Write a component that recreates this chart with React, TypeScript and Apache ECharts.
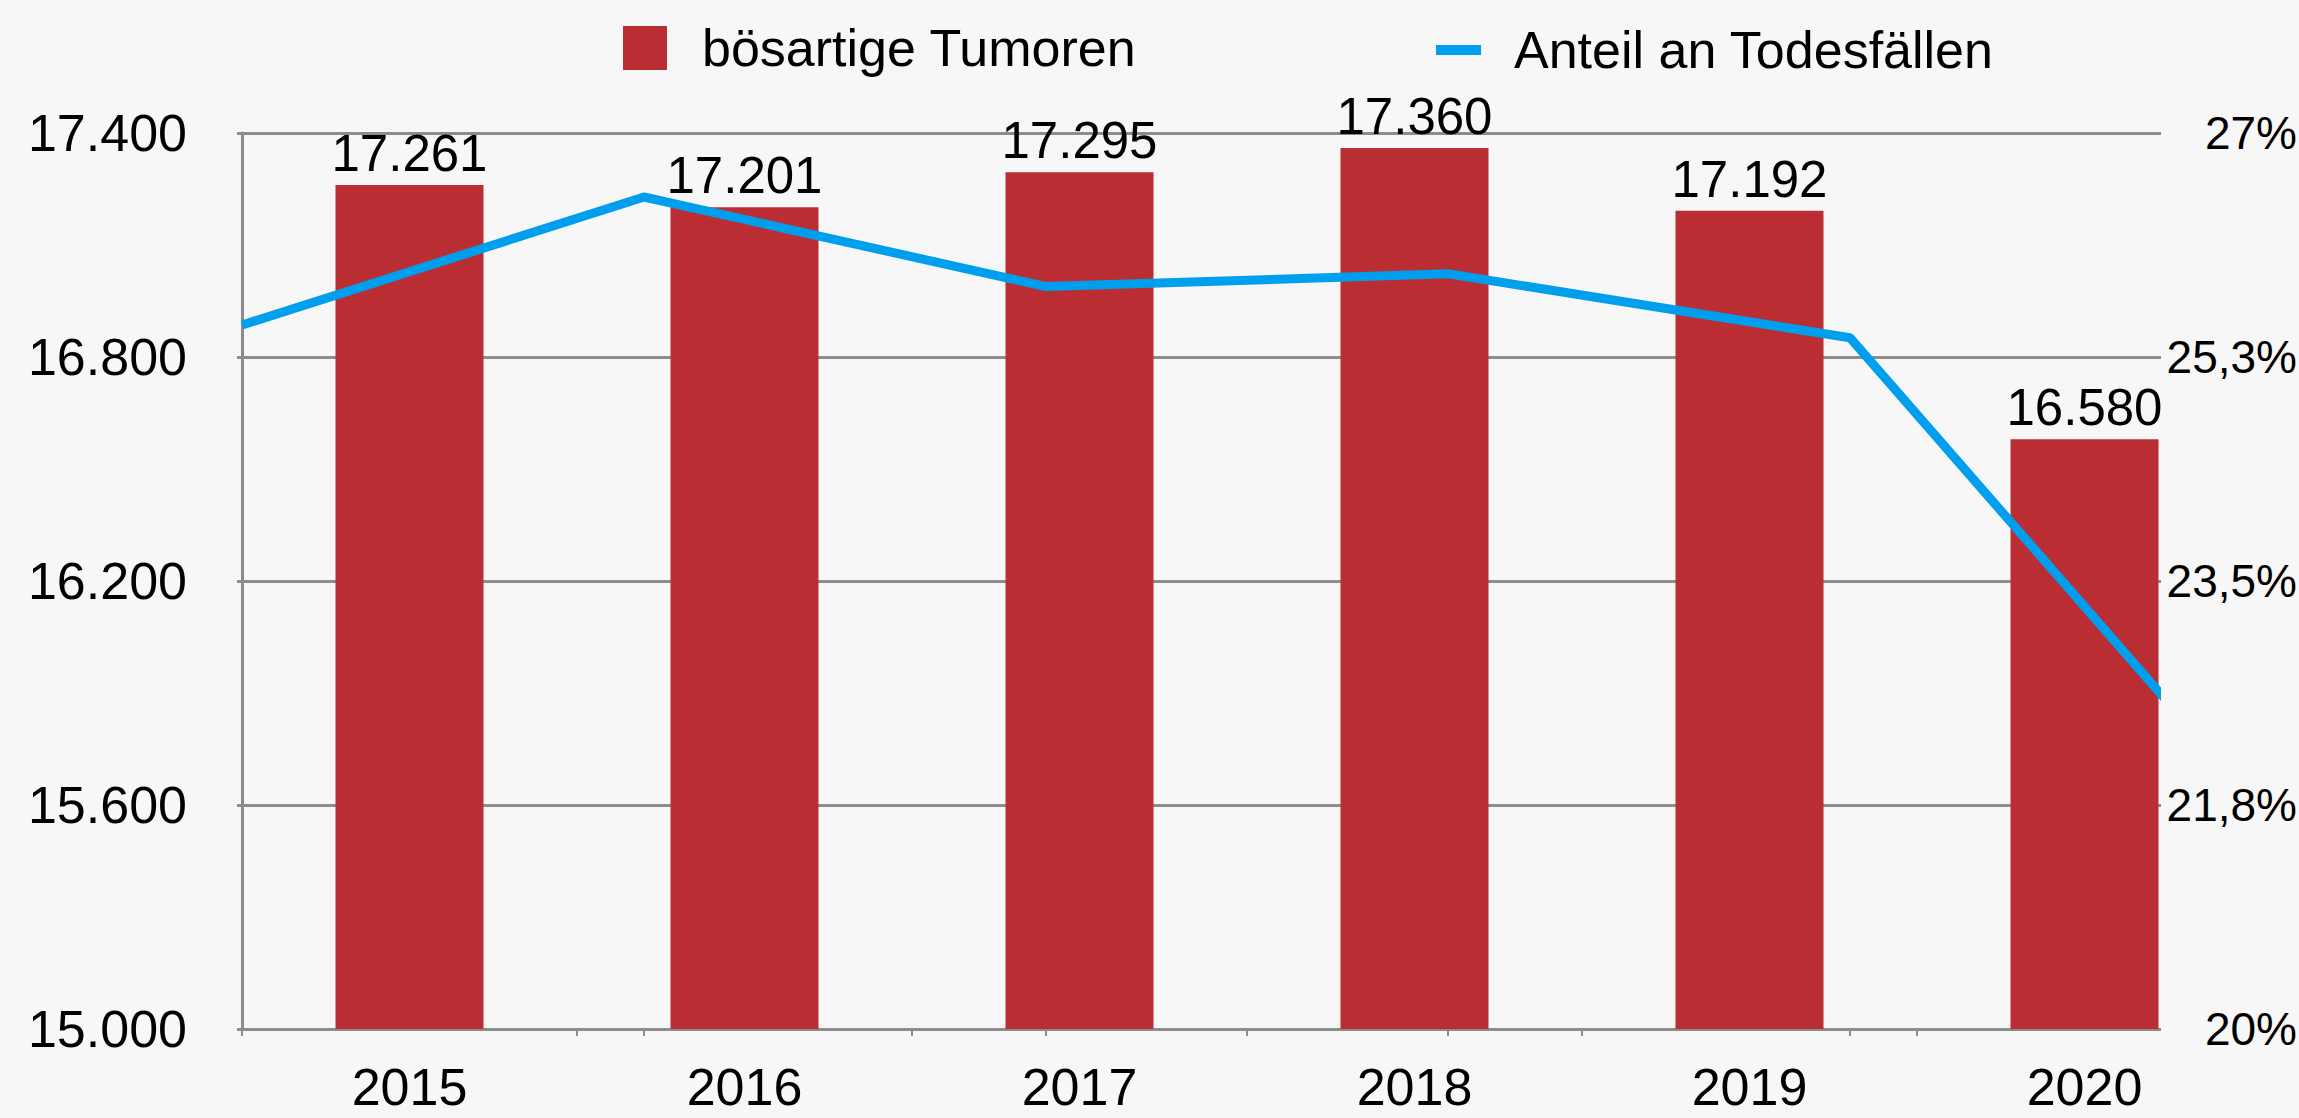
import React, { useEffect, useRef } from "react";
import * as echarts from "echarts";

const years = ["2015", "2016", "2017", "2018", "2019", "2020"];
const tumorDeaths = [17261, 17201, 17295, 17360, 17192, 16580];
const shareOfDeaths = [25.5, 26.5, 25.8, 25.9, 25.4, 21.8];
const barName = "bösartige Tumoren";
const lineName = "Anteil an Todesfällen";

const FONT = "'Liberation Sans', Arial, sans-serif";
const GRAY = "#8c8c8c";
const BG = "#f7f7f7";

const fmtThousands = (v: number) =>
  String(Math.round(v)).replace(/\B(?=(\d{3})+(?!\d))/g, ".");
const fmtPct = (v: number) => {
  const r = Math.round(v * 100) / 100;
  return (Number.isInteger(r) ? String(r) : r.toFixed(1).replace(".", ",")) + "%";
};

export default function App() {
  const ref = useRef<HTMLDivElement>(null);
  useEffect(() => {
    document.body.style.margin = "0";
    if (!ref.current) return;
    const chart = echarts.init(ref.current, undefined, { renderer: "svg" });
    chart.setOption({
      animation: false,
      backgroundColor: BG,
      textStyle: { fontFamily: FONT },
      legend: [
        {
          data: [{ name: barName, icon: "rect" }],
          left: 618,
          top: 17,
          itemWidth: 44,
          itemHeight: 44,
          textStyle: { fontSize: 52, color: "#000", fontFamily: FONT, padding: [0, 0, 0, 30] },
        },
        {
          data: [{ name: lineName, icon: "rect" }],
          left: 1431,
          top: 19,
          itemWidth: 45,
          itemHeight: 10,
          textStyle: { fontSize: 52, color: "#000", fontFamily: FONT, padding: [0, 0, 0, 28] },
        },
      ],
      grid: {
        left: 242,
        right: 47,
        top: 133,
        bottom: 89,
        containLabel: false,
        outerBoundsMode: "none",
      },
      xAxis: [
        {
          type: "category",
          data: years,
          position: "bottom",
          boundaryGap: true,
          axisLine: { show: true, lineStyle: { color: GRAY, width: 3 } },
          axisTick: { show: true, length: 7, interval: 0, lineStyle: { color: GRAY, width: 2 } },
          axisLabel: { fontSize: 52, color: "#000", fontFamily: FONT, margin: 32, interval: 0 },
        },
        {
          type: "category",
          data: years,
          position: "bottom",
          boundaryGap: false,
          axisLine: { show: false },
          axisTick: { show: true, length: 7, interval: 0, lineStyle: { color: GRAY, width: 2 } },
          axisLabel: { show: false },
        },
      ],
      yAxis: [
        {
          type: "value",
          position: "left",
          min: 15000,
          max: 17400,
          interval: 600,
          axisLine: { show: true, lineStyle: { color: GRAY, width: 3 } },
          axisTick: { show: true, length: 5, lineStyle: { color: GRAY, width: 3 } },
          splitLine: { show: true, lineStyle: { color: GRAY, width: 3 } },
          axisLabel: { fontSize: 52, color: "#000", fontFamily: FONT, margin: 55, formatter: fmtThousands },
        },
        {
          type: "value",
          position: "right",
          min: 20,
          max: 27,
          alignTicks: true,
          z: 10,
          axisLine: { show: false },
          axisTick: { show: false },
          splitLine: { show: false },
          axisLabel: {
            fontSize: 46,
            color: "#000",
            fontFamily: FONT,
            align: "right",
            margin: 45,
            formatter: fmtPct,
          },
        },
      ],
      graphic: [
        {
          type: "rect",
          z: 5,
          silent: true,
          shape: { x: 2161, y: 120, width: 138, height: 925 },
          style: { fill: BG },
        },
      ],
      series: [
        {
          name: barName,
          type: "bar",
          xAxisIndex: 0,
          yAxisIndex: 0,
          data: tumorDeaths,
          barWidth: 148,
          itemStyle: { color: "#BA2D32" },
          label: {
            show: true,
            position: "top",
            distance: 6,
            fontSize: 51,
            color: "#000",
            fontFamily: FONT,
            formatter: (p: any) => fmtThousands(p.value),
          },
        },
        {
          name: lineName,
          type: "line",
          xAxisIndex: 1,
          yAxisIndex: 1,
          data: shareOfDeaths,
          symbol: "none",
          itemStyle: { color: "#009FEE" },
          lineStyle: { color: "#009FEE", width: 9 },
        },
      ],
    });
    return () => chart.dispose();
  }, []);
  return <div ref={ref} style={{ width: 2299, height: 1118 }} />;
}
